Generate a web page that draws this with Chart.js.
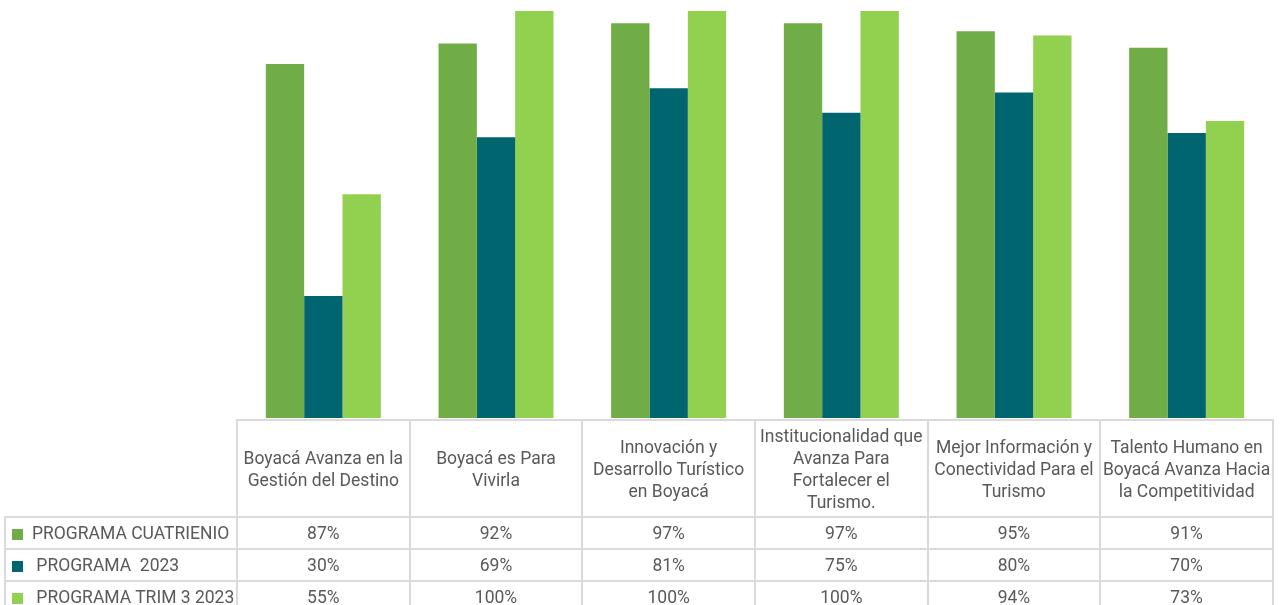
<!DOCTYPE html>
<html>
<head>
<meta charset="utf-8">
<script src="https://cdn.jsdelivr.net/npm/chart.js@4.4.0/dist/chart.umd.min.js"></script>
<style>
  html, body { margin: 0; padding: 0; background: #fff; }
  #wrap { position: relative; width: 1285px; height: 605px; overflow: hidden; }
  #chartBox { position: absolute; left: 0; top: 0; width: 1285px; height: 605px; }
  #tbl {
    position: absolute;
    border-collapse: collapse;
    table-layout: fixed;
    font-family: Roboto, "Open Sans", sans-serif;
    font-size: 17.5px;
    color: #595959;
  }
  #tbl td { border: 2px solid #dadada; text-align: center; padding: 0; white-space: nowrap; }
  #tbl td.head { line-height: 22px; }
  #tbl td.blank { border-top: none; border-left: none; }
  #tbl td.name { text-align: left; white-space: pre; padding-left: 6px; }
  #tbl .mark { display: inline-block; width: 11px; height: 11px; margin-right: 9px; vertical-align: -1px; }
</style>
</head>
<body>
<div id="wrap">
  <div id="chartBox"><canvas id="myChart"></canvas></div>
  <table id="tbl"></table>
</div>
<script>
const categories = [
  ["Boyacá Avanza en la", "Gestión del Destino"],
  ["Boyacá es Para", "Vivirla"],
  ["Innovación y", "Desarrollo Turístico", "en Boyacá"],
  ["Institucionalidad que", "Avanza Para", "Fortalecer el", "Turismo."],
  ["Mejor Información y", "Conectividad Para el", "Turismo"],
  ["Talento Humano en", "Boyacá Avanza Hacia", "la Competitividad"]
];
const seriesNames = ["PROGRAMA CUATRIENIO", " PROGRAMA  2023", " PROGRAMA TRIM 3 2023"];
const cuatrienio = [87, 92, 97, 97, 95, 91];
const programa2023 = [30, 69, 81, 75, 80, 70];
const trim3 = [55, 100, 100, 100, 94, 73];
const colors = ["#70AD47", "#00656F", "#92D050"];

const allSeries = [cuatrienio, programa2023, trim3];

// data table under the bars, lined up with the x scale
const tablePlugin = {
  id: "dataTable",
  afterRender(chart) {
    if (chart.$tableDone) return;
    chart.$tableDone = true;
    const area = chart.chartArea;
    const tbl = document.getElementById("tbl");
    const left = 5;
    const colW = (area.right - area.left) / categories.length;

    tbl.style.left = (left - 1) + "px";
    tbl.style.top = (area.bottom + 1) + "px";

    let html = "<colgroup><col style='width:" + (area.left - left) + "px'>";
    categories.forEach(() => { html += "<col style='width:" + colW + "px'>"; });
    html += "</colgroup>";

    html += "<tr style='height:97px'><td class='blank'></td>";
    categories.forEach(c => { html += "<td class='head'>" + c.join("<br>") + "</td>"; });
    html += "</tr>";

    allSeries.forEach((s, i) => {
      html += "<tr style='height:32px'><td class='name'><span class='mark' style='background:" + colors[i] + "'></span>" + seriesNames[i] + "</td>";
      s.forEach(v => { html += "<td>" + v + "%</td>"; });
      html += "</tr>";
    });
    tbl.innerHTML = html;
  }
};

const ctx = document.getElementById("myChart").getContext("2d");
const chart = new Chart(ctx, {
  type: "bar",
  data: {
    labels: categories,
    datasets: allSeries.map((s, i) => ({
      label: seriesNames[i],
      data: s,
      backgroundColor: colors[i],
      borderWidth: 0,
      categoryPercentage: 0.666,
      barPercentage: 1.0,
    })),
  },
  options: {
    animation: false,
    responsive: true,
    maintainAspectRatio: false,
    layout: {
      padding: { left: 237, right: 12, top: 11, bottom: 187 },
    },
    plugins: {
      legend: { display: false },
      tooltip: { enabled: false },
    },
    scales: {
      x: { display: false },
      y: { display: false, min: 0, max: 100 },
    },
  },
  plugins: [tablePlugin],
});
</script>
</body>
</html>
